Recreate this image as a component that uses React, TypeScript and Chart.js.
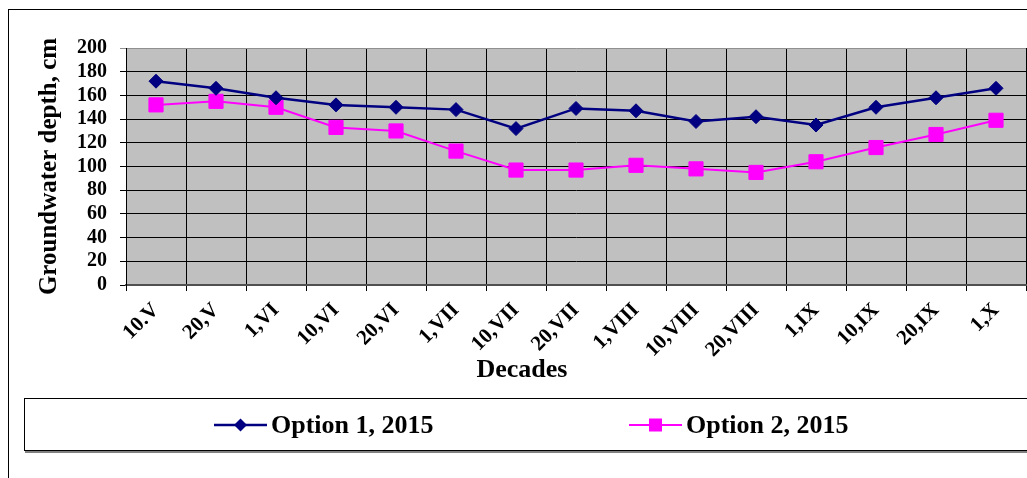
import React, { useEffect, useRef } from "react";
import { Chart, registerables } from "chart.js";

Chart.register(...registerables);

const categories = ["10.V", "20,V", "1,VI", "10,VI", "20,VI", "1,VII", "10,VII", "20,VII", "1,VIII", "10,VIII", "20,VIII", "1,IX", "10,IX", "20,IX", "1,X"];
const option1 = [172, 166, 158, 152, 150, 148, 132, 149, 147, 138, 142, 135, 150, 158, 166];
const option2 = [152, 155, 150, 133, 130, 113, 97, 97, 101, 98, 95, 104, 116, 127, 139];
const seriesNames = ["Option 1, 2015", "Option 2, 2015"];
const yMin = 0;
const yMax = 200;
const yStep = 20;
const xTitle = "Decades";
const yTitle = "Groundwater depth, cm";

const FONT = "'Liberation Serif', 'Times New Roman', serif";

function drawMarker(ctx: CanvasRenderingContext2D, style: string, x: number, y: number, r: number) {
  ctx.beginPath();
  if (style === "rect") {
    ctx.rect(x - r, y - r, 2 * r, 2 * r);
  } else {
    ctx.moveTo(x, y - r);
    ctx.lineTo(x + r, y);
    ctx.lineTo(x, y + r);
    ctx.lineTo(x - r, y);
    ctx.closePath();
  }
  ctx.fill();
}

const framePlugin = {
  id: "frame",
  beforeDraw(chart: any) {
    const { ctx, chartArea, width, height } = chart;
    ctx.save();
    ctx.fillStyle = "#ffffff";
    ctx.fillRect(0, 0, width, height);
    ctx.strokeStyle = "#000000";
    ctx.lineWidth = 1;
    ctx.strokeRect(8.5, 9.5, width + 20, height + 20);
    ctx.fillStyle = "#c0c0c0";
    ctx.fillRect(chartArea.left, chartArea.top, chartArea.right - chartArea.left, chartArea.bottom - chartArea.top);
    ctx.restore();
  },
};

// x-axis title, centred on the whole chart (as in the reference) rather than the plot area
const xTitlePlugin = {
  id: "xTitle",
  afterDraw(chart: any) {
    const { ctx } = chart;
    ctx.save();
    ctx.fillStyle = "#000000";
    ctx.font = `bold 26px ${FONT}`;
    ctx.textAlign = "center";
    ctx.textBaseline = "alphabetic";
    ctx.fillText(xTitle, 522, 377);
    ctx.restore();
  },
};

const legendBoxPlugin = {
  id: "legendBox",
  afterDraw(chart: any) {
    const { ctx, width } = chart;
    ctx.save();
    ctx.fillStyle = "#808080";
    ctx.fillRect(25, 451, width, 2);
    ctx.strokeStyle = "#000000";
    ctx.lineWidth = 1;
    ctx.strokeRect(24.5, 398.5, width, 52);
    const starts = [214, 629];
    const cy = 425;
    chart.data.datasets.forEach((ds: any, i: number) => {
      const x0 = starts[i];
      ctx.strokeStyle = ds.borderColor;
      ctx.lineWidth = ds.borderWidth;
      ctx.beginPath();
      ctx.moveTo(x0, cy);
      ctx.lineTo(x0 + 53, cy);
      ctx.stroke();
      ctx.fillStyle = ds.pointBackgroundColor;
      drawMarker(ctx, ds.pointStyle, x0 + 26.5, cy, 6.5);
      ctx.fillStyle = "#000000";
      ctx.font = `bold 26px ${FONT}`;
      ctx.textBaseline = "middle";
      ctx.textAlign = "left";
      ctx.fillText(ds.label, x0 + 57, cy + 1);
    });
    ctx.restore();
  },
};

export default function App() {
  const canvasRef = useRef<HTMLCanvasElement>(null);

  useEffect(() => {
    const canvas = canvasRef.current;
    if (!canvas) return;
    const chart = new Chart(canvas, {
      type: "line",
      data: {
        labels: categories,
        datasets: [
          {
            label: seriesNames[0],
            data: option1,
            borderColor: "#000080",
            backgroundColor: "#000080",
            pointBackgroundColor: "#000080",
            pointBorderColor: "#000080",
            borderWidth: 2.5,
            pointStyle: "rectRot",
            pointRadius: 7,
            pointBorderWidth: 1,
            tension: 0,
          },
          {
            label: seriesNames[1],
            data: option2,
            borderColor: "#ff00ff",
            backgroundColor: "#ff00ff",
            pointBackgroundColor: "#ff00ff",
            pointBorderColor: "#ff00ff",
            borderWidth: 2,
            pointStyle: "rect",
            pointRadius: 10,
            pointBorderWidth: 1,
            tension: 0,
          },
        ],
      },
      options: {
        responsive: false,
        animation: false,
        layout: { autoPadding: false, padding: { left: 0, top: 48, right: 1, bottom: 93 } },
        plugins: {
          legend: { display: false },
          tooltip: { enabled: false },
        },
        scales: {
          x: {
            type: "category",
            offset: true,
            grid: {
              offset: true,
              color: "#000000",
              lineWidth: 1,
              tickLength: 6,
            },
            border: { color: "#505050", width: 2 },
            ticks: {
              autoSkip: false,
              minRotation: 45,
              maxRotation: 45,
              padding: 7,
              color: "#000000",
              font: { family: FONT, size: 21, weight: "bold" },
            },
            title: { display: false, text: xTitle },
            afterFit(scale: any) {
              scale.height = 100;
              scale.paddingLeft = 0;
              scale.paddingRight = 0;
            },
          },
          y: {
            min: yMin,
            max: yMax,
            ticks: {
              stepSize: yStep,
              autoSkip: false,
              padding: 13,
              color: "#000000",
              font: { family: FONT, size: 20, weight: "bold" },
            },
            grid: {
              color: (c: any) => (c.tick && c.tick.value === yMax ? "#909090" : "#000000"),
              lineWidth: 1,
              tickLength: 6,
            },
            border: { color: "#000000", width: 1 },
            title: {
              display: true,
              text: yTitle,
              color: "#000000",
              font: { family: FONT, size: 25, weight: "bold" },
              padding: { top: 35, bottom: 0 },
            },
            afterFit(scale: any) {
              scale.width = 126;
              scale.paddingTop = 0;
              scale.paddingBottom = 0;
            },
          },
        },
      },
      plugins: [framePlugin, xTitlePlugin, legendBoxPlugin],
    });
    return () => chart.destroy();
  }, []);

  return (
    <div style={{ position: "fixed", left: 0, top: 0, width: 1027, height: 478, background: "#fff" }}>
      <canvas ref={canvasRef} width={1027} height={478} style={{ display: "block" }} />
    </div>
  );
}
